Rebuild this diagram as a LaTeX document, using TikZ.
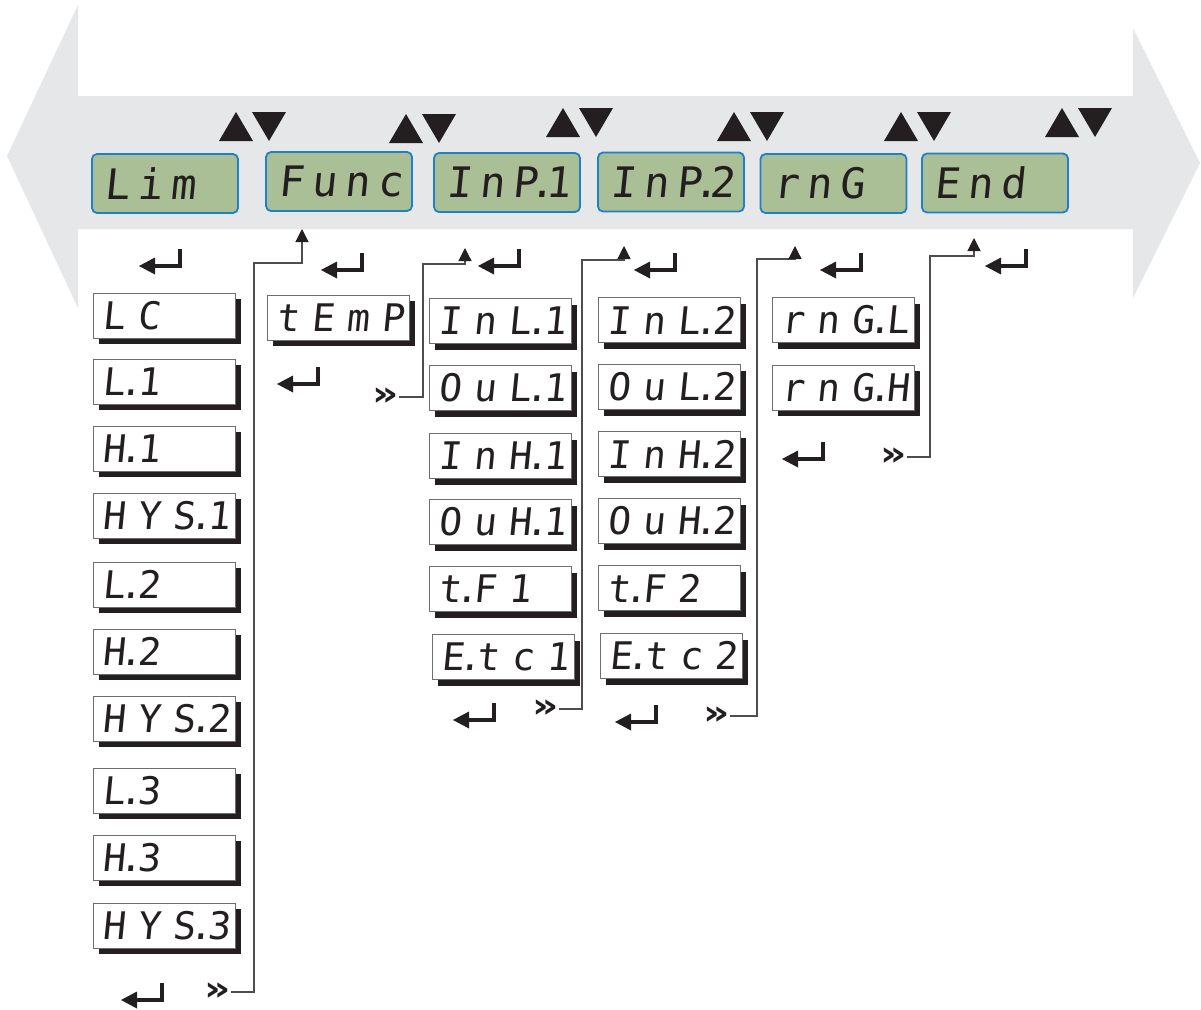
\documentclass[tikz,border=0pt]{standalone}
\usepackage{fontspec}
\usetikzlibrary{arrows.meta,shadows}
\newfontfamily\segfont[FakeSlant=0.1]{DejaVu Sans Mono}
\newfontfamily\symfont{DejaVu Sans}
\definecolor{bandgray}{HTML}{E6E7E8}
\definecolor{lcdgreen}{HTML}{AABF95}
\definecolor{lcdblue}{HTML}{1F80C9}
\definecolor{inkblack}{HTML}{231F20}
\definecolor{wiregray}{HTML}{4D4D4F}
\definecolor{edgegray}{HTML}{6D6E70}
\ExplSyntaxOn
\cs_new_protected:Npn \segtext #1 #2
  {
    \str_map_inline:nn {#2}
      {
        \str_if_eq:nnTF {##1} {.}
          { \makebox[0pt][c]{.} }
          {
            \str_if_eq:nnTF {##1} {~}
              { }
              { \makebox[#1][c]{##1} }
          }
      }
  }
\ExplSyntaxOff
\newcommand\gtext[1]{\makebox[146pt][l]{\hspace*{9pt}\segtext{33pt}{#1}}}
\newcommand\wtext[1]{\makebox[142pt][l]{\hspace*{3pt}\segtext{35pt}{#1}}}
\newcommand\ddmark{\scalebox{1.2}[1]{»}}
\tikzset{
  lcd/.style={draw=lcdblue, line width=1.8pt, fill=lcdgreen, rounded corners=5pt,
    minimum width=146pt, minimum height=59pt, inner sep=0pt,
    font=\segfont\fontsize{42}{42}\selectfont, text=inkblack},
  seg/.style={draw=edgegray, line width=0.8pt, fill=white, minimum width=142pt,
    minimum height=45pt, inner sep=0pt, font=\segfont\fontsize{38}{38}\selectfont,
    text=inkblack,
    drop shadow={shadow xshift=6pt, shadow yshift=-6pt, fill=inkblack, opacity=1}},
  wire/.style={draw=wiregray, line width=1.2pt},
  wiretip/.style={-{Triangle[width=13pt,length=13pt,color=inkblack]}},
  dd/.style={font=\symfont\bfseries\fontsize{34}{34}\selectfont, inner sep=0pt, text=inkblack},
  enterkey/.pic={
    \draw[line width=4.2pt, inkblack] (0,0) -- (0,17) -- (-27,17);
    \fill[inkblack] (-25,8.5) -- (-41,17) -- (-25,25.5) -- cycle;
  },
  updown/.pic={
    \fill[inkblack] (0,29) -- (17,0) -- (34,29) -- cycle;
    \fill[inkblack] (33,0) -- (67,0) -- (50,29) -- cycle;
  }
}
\begin{document}
\begin{tikzpicture}[x=1pt,y=-1pt]
\useasboundingbox (0,0) rectangle (1201,1009);
\fill[white] (0,0) rectangle (1201,1009);
% big double arrow band
\fill[bandgray] (78,96) -- (78,5) -- (7,156) -- (78,308) -- (78,229) -- (1133,229)
  -- (1133,298) -- (1200,163) -- (1133,28) -- (1133,96) -- cycle;
% up/down keys
\pic at (219,112) {updown};
\pic at (389,114) {updown};
\pic at (546,108) {updown};
\pic at (717,112) {updown};
\pic at (884,112) {updown};
\pic at (1045,108) {updown};
% main LCD menu
\node[lcd] (lim)  at (165,183.5) {\gtext{Lim}};
\node[lcd] (func) at (339,181.5) {\gtext{Func}};
\node[lcd] (inp1) at (507,182.5) {\gtext{InP.1}};
\node[lcd] (inp2) at (671,182)   {\gtext{InP.2}};
\node[lcd] (rng)  at (833.5,183.5) {\gtext{rnG}};
\node[lcd] (endm) at (995,183)   {\gtext{End}};
% enter keys
\pic at (180,249) {enterkey};
\pic at (362,253) {enterkey};
\pic at (318,367) {enterkey};
\pic at (519,249) {enterkey};
\pic at (675,253) {enterkey};
\pic at (861,253) {enterkey};
\pic at (1026,249) {enterkey};
\pic at (162,983) {enterkey};
\pic at (494,703) {enterkey};
\pic at (656,705) {enterkey};
\pic at (823,442) {enterkey};
% column 1
\node[seg] (lc)   at (164,315.5) {\wtext{LC}};
\node[seg] (l1)   at (164,381.5) {\wtext{L.1}};
\node[seg] (h1)   at (164,448.5) {\wtext{H.1}};
\node[seg] (hys1) at (164,515.5) {\wtext{HYS.1}};
\node[seg] (l2)   at (164,584.5) {\wtext{L.2}};
\node[seg] (h2)   at (164,651.5) {\wtext{H.2}};
\node[seg] (hys2) at (164,718.5) {\wtext{HYS.2}};
\node[seg] (l3)   at (164,790.5) {\wtext{L.3}};
\node[seg] (h3)   at (164,857.5) {\wtext{H.3}};
\node[seg] (hys3) at (164,925.5) {\wtext{HYS.3}};
% column 2
\node[seg] (temp) at (338,317.5) {\wtext{tEmP}};
% column 3
\node[seg] (inl1) at (500,321) {\wtext{InL.1}};
\node[seg] (oul1) at (500,388) {\wtext{OuL.1}};
\node[seg] (inh1) at (500,456) {\wtext{InH.1}};
\node[seg] (ouh1) at (500,522) {\wtext{OuH.1}};
\node[seg] (tf1)  at (500,589) {\wtext{t.F 1}};
\node[seg] (etc1) at (503,657) {\wtext{E.tc 1}};
% column 4
\node[seg] (inl2) at (669,320) {\wtext{InL.2}};
\node[seg] (oul2) at (669,387) {\wtext{OuL.2}};
\node[seg] (inh2) at (669,454) {\wtext{InH.2}};
\node[seg] (ouh2) at (669,521) {\wtext{OuH.2}};
\node[seg] (tf2)  at (669,588) {\wtext{t.F 2}};
\node[seg] (etc2) at (671,656) {\wtext{E.tc 2}};
% column 5
\node[seg] (rngl) at (843,320)   {\wtext{rnG.L}};
\node[seg] (rngh) at (843,387.5) {\wtext{rnG.H}};
% next markers
\node[dd] (dd1) at (218,992) {\ddmark};
\node[dd] (dd2) at (386,397) {\ddmark};
\node[dd] (dd3) at (546,709) {\ddmark};
\node[dd] (dd4) at (717,716) {\ddmark};
\node[dd] (dd5) at (894,457) {\ddmark};
% arrival points below the menu items
\coordinate (t1) at (302,229);
\coordinate (t2) at (465,248);
\coordinate (t3) at (624,246);
\coordinate (t4) at (795,246);
\coordinate (t5) at (974,238);
% connectors
\draw[wire,wiretip] (dd1.east) -| (254,263) -| (t1);
\draw[wire,wiretip] (dd2.east) -| (423,264) -| (t2);
\draw[wire,wiretip] (dd3.east) -| (582,260) -| (t3);
\draw[wire,wiretip] (dd4.east) -| (757,259) -| (t4);
\draw[wire,wiretip] (dd5.east) -| (930,256) -| (t5);
\end{tikzpicture}
\end{document}
